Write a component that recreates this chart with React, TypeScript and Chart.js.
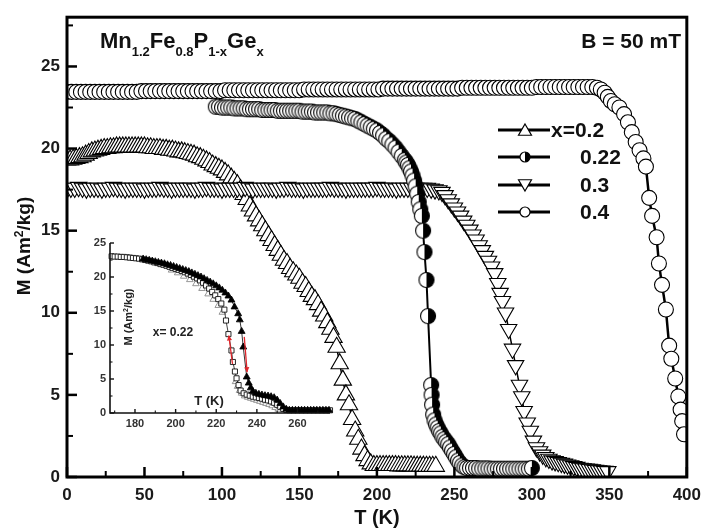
import React, { useEffect, useRef } from 'react';
import { Chart, registerables } from 'chart.js';

Chart.register(...registerables);

const FONT = "'Liberation Sans', Arial, Helvetica, sans-serif";

// ---------------- main panel : x = 0.2 (open up-triangles) ----------------
const T_X020 = [0,2,4,6,8,10,12,14,16,18,20,22,24,26,28,30,32,34,36,38,40,42,44,46,48,50,52,54,56,58,60,62,64,66,68,70,72,74,76,78,80,82,84,86,88,90,92,94,96,98,100,102,104,106,108,110,112,114,116,118,120,122,124,126,128,130,132,134,136,138,140,142,144,146,148,150,152,154,156,158,160,162,164,166,168,170,172,174,176,178,180,182,184,186,188,190,192,194,196,198,200,202,204,206,208,210,212,214,216,218,220,222,224,226,228,230,232,234,236,238];
const M_X020 = [
  19.3,19.3,19.35,19.4,19.45,19.5,19.6,19.7,19.8,19.85,
  19.9,19.95,20.0,20.0,20.05,20.05,20.1,20.1,20.1,20.1,
  20.1,20.1,20.1,20.1,20.1,20.1,20.05,20.05,20.0,20.0,
  20.0,19.95,19.95,19.9,19.9,19.85,19.8,19.8,19.75,19.7,
  19.65,19.6,19.5,19.45,19.35,19.25,19.15,19.0,18.9,18.8,
  18.7,18.55,18.4,18.2,18.0,17.8,17.5,17.2,16.9,16.5,
  16.2,15.9,15.6,15.3,15.0,14.7,14.4,14.1,13.8,13.5,
  13.2,13.0,12.7,12.5,12.3,12.1,11.8,11.6,11.3,11.0,
  10.8,10.5,10.1,9.8,9.4,9.0,8.5,7.9,6.9,5.9,
  5.0,4.4,3.5,2.8,2.3,1.7,1.3,1.0,0.8,0.7,
  0.7,0.7,0.7,0.7,0.7,0.7,0.7,0.68,0.68,0.68,
  0.68,0.68,0.66,0.66,0.66,0.66,0.65,0.65,0.65,0.65
];

// ---------------- main panel : x = 0.22 (half-filled circles) ----------------
const T_X022 = [96,98,100,102,104,106,108,110,112,114,116,118,120,122,124,126,128,130,132,134,136,138,140,142,144,146,148,150,152,154,156,158,160,162,164,166,168,170,172,174,176,178,180,182,184,186,188,190,192,194,196,198,200,202,204,206,208,210,212,214,216,218,
  219,220,221,222,223,224,225,226,227,228,229,229.8,230.7,232,233,235,235.3,235.6,236.3,237.2,238.2,239.2,240.2,241.2,242.3,243.5,244.7,246,247.2,248.5,249.8,251,252.3,253.5,255,256.5,258,
  260,262,264,266,268,270,272,274,276,278,280,282,284,286,288,290,292,294,296,298,300];
const M_X022 = [
  22.55,22.55,22.5,22.5,22.5,22.5,22.45,22.45,22.45,22.45,
  22.4,22.4,22.4,22.4,22.4,22.35,22.35,22.35,22.35,22.35,
  22.3,22.3,22.3,22.3,22.3,22.3,22.3,22.3,22.25,22.25,
  22.25,22.25,22.2,22.2,22.2,22.2,22.2,22.15,22.15,22.1,
  22.05,22.0,21.95,21.9,21.85,21.8,21.7,21.6,21.5,21.4,
  21.3,21.2,21.1,20.95,20.8,20.6,20.45,20.25,20.05,19.8,
  19.55,19.3,
  19.15,19.0,18.8,18.6,18.35,18.05,17.7,17.25,16.75,16.3,
  15.9,15.0,13.7,12.0,9.8,5.6,5.0,4.4,3.8,3.45,
  3.2,3.0,2.8,2.65,2.45,2.3,2.15,2.0,1.8,1.6,
  1.4,1.2,1.0,0.85,0.7,0.6,0.55,
  0.55,0.55,0.55,0.52,0.52,0.52,0.52,0.5,0.5,0.5,0.5,0.5,0.5,0.5,0.5,0.5,0.5,0.5,0.5,0.5,0.55
];

// ---------------- main panel : x = 0.3 (open down-triangles) ----------------
const T_X030 = [0,2.5,5,7.5,10,12.5,15,17.5,20,22.5,25,27.5,30,32.5,35,37.5,40,42.5,45,47.5,50,52.5,55,57.5,60,62.5,65,67.5,70,72.5,75,77.5,80,82.5,85,87.5,90,92.5,95,97.5,100,102.5,105,107.5,110,112.5,115,117.5,120,122.5,125,127.5,130,132.5,135,137.5,140,142.5,145,147.5,150,152.5,155,157.5,160,162.5,165,167.5,170,172.5,175,177.5,180,182.5,185,187.5,190,192.5,195,197.5,200,202.5,205,207.5,210,212.5,215,217.5,220,222.5,225,227.5,230,232.5,235,237.5,
  240,242,244,246,248,250,252,254,256,258,260,262,264,266,268,270,272,274,276,278,
  279.5,281,283,285,287.5,289.5,292,293.5,295,297,299,301,303,305,307,309,311,313,315,317,319,321,323,325,327,329,331,333,335,337,339,341,343,345,347,349];
const M_X030 = [
  17.55,17.6,17.6,17.65,17.6,17.55,17.6,17.6,17.6,17.55,
  17.6,17.6,17.65,17.6,17.6,17.55,17.6,17.6,17.6,17.6,
  17.55,17.6,17.6,17.6,17.65,17.6,17.6,17.55,17.6,17.6,
  17.6,17.6,17.6,17.55,17.6,17.6,17.65,17.6,17.6,17.6,
  17.55,17.6,17.6,17.6,17.6,17.6,17.65,17.6,17.55,17.6,
  17.6,17.6,17.6,17.6,17.55,17.6,17.6,17.65,17.6,17.6,
  17.6,17.55,17.6,17.6,17.6,17.6,17.6,17.6,17.65,17.6,
  17.6,17.6,17.55,17.6,17.6,17.6,17.6,17.6,17.6,17.6,
  17.65,17.6,17.6,17.6,17.6,17.55,17.6,17.6,17.6,17.6,
  17.6,17.6,17.6,17.6,17.55,17.5,
  17.45,17.35,17.15,16.9,16.65,16.4,16.15,15.9,15.6,15.35,
  15.05,14.75,14.45,14.1,13.8,13.45,13.15,12.8,12.4,11.8,
  11.2,10.7,10.0,9.0,7.8,6.8,5.6,4.9,4.0,3.3,
  2.8,2.2,1.8,1.55,1.35,1.2,1.1,1.0,0.95,0.9,
  0.85,0.8,0.75,0.7,0.65,0.6,0.55,0.52,0.5,0.48,
  0.45,0.42,0.4,0.38,0.36,0.34
];

// ---------------- main panel : x = 0.4 (open circles) ----------------
const T_X040 = [0,3,6,9,12,15,18,21,24,27,30,33,36,39,42,45,48,51,54,57,60,63,66,69,72,75,78,81,84,87,90,93,96,99,102,105,108,111,114,117,120,123,126,129,132,135,138,141,144,147,150,153,156,159,162,165,168,171,174,177,180,183,186,189,192,195,198,201,204,207,210,213,216,219,222,225,228,231,234,237,240,243,246,249,252,255,258,261,264,267,270,273,276,279,282,285,288,291,294,297,300,303,306,309,312,315,318,321,324,327,330,333,336,339,
  342,344.5,347,349,351,353.5,356.5,359.5,362,364.5,367,369.5,372,373.6,375.7,377.6,380.5,382,384,386.5,388.6,390,392.5,394.5,396,397,398.2];
const M_X040 = [
  23.45,23.45,23.45,23.45,23.45,23.45,23.45,23.45,23.45,23.45,23.45,23.45,23.45,23.45,23.45,23.45,
  23.5,23.5,23.5,23.5,23.5,23.5,23.5,23.5,23.5,23.5,23.5,23.5,23.5,23.5,23.5,23.5,23.5,23.5,
  23.55,23.55,23.55,23.55,23.55,23.55,23.55,23.55,23.55,23.55,23.55,23.55,23.55,23.55,23.55,23.55,23.55,
  23.6,23.6,23.6,23.6,23.6,23.6,23.6,23.6,23.6,23.6,23.6,23.6,23.6,23.6,23.6,23.6,23.6,
  23.65,23.65,23.65,23.65,23.65,23.65,23.65,23.65,23.65,23.65,23.65,23.65,23.65,23.65,23.65,23.65,23.65,
  23.7,23.7,23.7,23.7,23.7,23.7,23.7,23.7,23.7,23.7,23.7,23.7,23.7,23.7,23.7,23.7,
  23.75,23.75,23.75,23.75,23.75,23.75,23.75,23.75,23.75,23.75,23.75,23.75,23.75,
  23.7,23.6,23.4,23.15,22.9,22.7,22.5,22.1,21.6,21.0,
  20.4,19.9,19.4,18.9,17.0,15.9,14.6,13.0,11.7,10.2,
  8.0,7.2,6.0,4.9,4.1,3.4,2.6
];

// ---------------- inset : x = 0.22 ----------------
const INS_T_SQ = [168.5,170,171.5,173,174.5,176,177.5,179,180.5,182,183.5,185,186.5,188,189.5,191,192.5,194,195.5,197,198.5,200,201.5,203,204.5,206,207.5,209,210.5,212,213.5,215,216.5,218,219.5,221,222.5,224,224.8,226,227.5,228.2,229.2,230,231,232,233.5,235,236.5,238,239.5,241,242.5,244,245.5,247,248.5,250,251.5,253,254.5,256,258,260,262,264,266,268,270,272,274,276];
const INS_M_SQ = [23.05,23.0,23.0,22.95,22.95,22.9,22.85,22.8,22.75,22.7,22.6,22.5,22.4,22.3,22.15,22.05,21.9,21.8,21.65,21.5,21.35,21.2,21.05,20.9,20.7,20.5,20.3,20.05,19.8,19.5,19.15,18.75,18.3,17.8,17.3,16.75,16.1,15.2,13.6,11.6,9.2,7.5,6.1,5.1,4.1,3.3,2.9,2.7,2.55,2.4,2.3,2.2,2.1,1.95,1.85,1.7,1.5,1.2,0.9,0.6,0.45,0.4,0.4,0.4,0.4,0.4,0.4,0.4,0.4,0.4,0.4,0.4];
const INS_T_TR = [184,185.5,187,188.5,190,191.5,193,194.5,196,197.5,199,200.5,202,203.5,205,206.5,208,209.5,211,212.5,214,215.5,217,218.5,220,221.5,223,224.5,226,227.5,229,230.8,231.6,232.5,233.3,235,236,237,238,239.5,241,242.5,244,245.5,247,248.5,250,251.5,253,254.5,256,257.5,259,260.5,262,263.5,265,266.5,268,269.5,271,272.5,274,275.5];
const INS_M_TR = [22.65,22.55,22.45,22.35,22.25,22.15,22.05,21.95,21.8,21.7,21.55,21.4,21.25,21.1,20.95,20.8,20.6,20.4,20.2,20.0,19.75,19.5,19.25,19.0,18.7,18.4,18.05,17.65,17.2,16.6,15.6,14.6,13.7,12.0,9.7,5.3,4.4,3.7,3.2,2.9,2.75,2.65,2.55,2.5,2.4,2.25,1.9,1.4,0.9,0.55,0.4,0.4,0.4,0.4,0.4,0.4,0.4,0.4,0.4,0.4,0.4,0.4,0.4,0.4];
const INS_T_GR = [198,201,204,207,210,213,216,218.5,221,223,229.5,230.5,231.5,232.5,234,235.5,237,238.5,240,241.5,243,244.5,246,247.5,249,250.5];
const INS_M_GR = [21.0,20.6,20.1,19.6,19.0,18.3,17.5,16.7,15.8,14.8,4.6,3.9,3.3,2.9,2.5,2.3,2.15,2.0,1.85,1.7,1.55,1.4,1.25,1.05,0.8,0.55];
const INS_ARROWS = [[228.0, 7.2, 226.2, 11.4], [233.8, 11.2, 235.2, 6.0]];

// ---------------- ticks & labels ----------------
const X_MAJOR = [0,50,100,150,200,250,300,350,400];
const X_MINOR = [25,75,125,175,225,275,325,375];
const Y_MAJOR = [0,5,10,15,20,25];
const Y_MINOR = [2.5,7.5,12.5,17.5,22.5,27.5];
const INS_X_MAJOR = [180,200,220,240,260];
const INS_X_MINOR = [170,190,210,230,250,270];
const INS_Y_MAJOR = [0,5,10,15,20,25];
const INS_Y_MINOR = [2.5,7.5,12.5,17.5,22.5];
const LEGEND_LABELS = ['x=0.2','0.22','0.3','0.4'];

const pts = (T: number[], M: number[]) => T.map((t, i) => ({ x: t, y: M[i] }));

type Seg = { t: string; s: number; dy: number };
function segWidth(ctx: CanvasRenderingContext2D, segs: Seg[]) {
  let w = 0;
  for (const g of segs) { ctx.font = `bold ${g.s}px ${FONT}`; w += ctx.measureText(g.t).width; }
  return w;
}
function drawSegs(ctx: CanvasRenderingContext2D, segs: Seg[], x: number, y: number) {
  let cx = x;
  for (const g of segs) {
    ctx.font = `bold ${g.s}px ${FONT}`;
    ctx.fillText(g.t, cx, y + g.dy);
    cx += ctx.measureText(g.t).width;
  }
}
function triPath(ctx: CanvasRenderingContext2D, x: number, y: number, r: number, down: boolean) {
  const s = down ? -1 : 1;
  ctx.beginPath();
  ctx.moveTo(x, y - s * r);
  ctx.lineTo(x + r * 0.866, y + s * r * 0.5);
  ctx.lineTo(x - r * 0.866, y + s * r * 0.5);
  ctx.closePath();
}
function halfCircle(ctx: CanvasRenderingContext2D, cx: number, cy: number, r: number, lw: number) {
  ctx.beginPath(); ctx.arc(cx, cy, r, 0, Math.PI * 2); ctx.fillStyle = '#fff'; ctx.fill();
  ctx.beginPath(); ctx.moveTo(cx, cy - r); ctx.arc(cx, cy, r, -Math.PI / 2, Math.PI / 2); ctx.closePath();
  ctx.fillStyle = '#000'; ctx.fill();
  ctx.beginPath(); ctx.arc(cx, cy, r, 0, Math.PI * 2); ctx.lineWidth = lw; ctx.strokeStyle = '#000'; ctx.stroke();
}
function makeHalfCircleImage(r: number, lw: number) {
  const size = 2 * Math.ceil(r + lw + 1);
  const c = document.createElement('canvas');
  c.width = size; c.height = size;
  const g = c.getContext('2d') as CanvasRenderingContext2D;
  halfCircle(g, size / 2, size / 2, r, lw);
  return c;
}

const TITLE_SEGS: Seg[] = [
  { t: 'Mn', s: 22, dy: 0 }, { t: '1.2', s: 13, dy: 8 },
  { t: 'Fe', s: 22, dy: 0 }, { t: '0.8', s: 13, dy: 8 },
  { t: 'P', s: 22, dy: 0 }, { t: '1-x', s: 13, dy: 8 },
  { t: 'Ge', s: 22, dy: 0 }, { t: 'x', s: 13, dy: 8 },
];
const YTITLE_SEGS: Seg[] = [{ t: 'M (Am', s: 19, dy: 0 }, { t: '2', s: 12, dy: -7 }, { t: '/kg)', s: 19, dy: 0 }];
const INS_YTITLE_SEGS: Seg[] = [{ t: 'M (Am', s: 11, dy: 0 }, { t: '2', s: 7, dy: -4 }, { t: '/kg)', s: 11, dy: 0 }];

const mainDecor = {
  id: 'mainDecor',
  afterDraw(chart: any) {
    const { ctx, chartArea: a } = chart;
    const xs = chart.scales.x, ys = chart.scales.y;
    ctx.save();
    ctx.strokeStyle = '#000';
    const line = (x1: number, y1: number, x2: number, y2: number, w: number) => {
      ctx.lineWidth = w; ctx.beginPath(); ctx.moveTo(x1, y1); ctx.lineTo(x2, y2); ctx.stroke();
    };
    X_MAJOR.forEach(v => { const p = xs.getPixelForValue(v); line(p, a.bottom, p, a.bottom - 10, 2.5); });
    X_MINOR.forEach(v => { const p = xs.getPixelForValue(v); line(p, a.bottom, p, a.bottom - 6, 2); });
    Y_MAJOR.forEach(v => { const p = ys.getPixelForValue(v); line(a.left, p, a.left + 10, p, 2.5); });
    Y_MINOR.forEach(v => { const p = ys.getPixelForValue(v); line(a.left, p, a.left + 6, p, 2); });
    ctx.lineWidth = 3;
    ctx.strokeRect(a.left, a.top, a.right - a.left, a.bottom - a.top);

    ctx.fillStyle = '#111';
    ctx.textBaseline = 'alphabetic';
    ctx.textAlign = 'left';
    drawSegs(ctx, TITLE_SEGS, 100, 48);
    ctx.font = `bold 21px ${FONT}`;
    ctx.textAlign = 'right';
    ctx.fillText('B = 50 mT', 681, 48);

    // axis titles
    ctx.textAlign = 'center';
    ctx.font = `bold 20px ${FONT}`;
    ctx.fillText('T (K)', (a.left + a.right) / 2, 524);
    ctx.save();
    ctx.translate(23, 246);
    ctx.rotate(-Math.PI / 2);
    ctx.textAlign = 'left';
    const w = segWidth(ctx, YTITLE_SEGS);
    drawSegs(ctx, YTITLE_SEGS, -w / 2, 7);
    ctx.restore();

    // legend
    const rows = [130, 157, 185, 212];
    const lx1 = 498, lx2 = 550, mx = 525;
    rows.forEach((ry, i) => {
      ctx.strokeStyle = '#000';
      line(lx1, ry, lx2, ry, 3);
      ctx.lineWidth = 1.2;
      if (i === 0 || i === 2) {
        triPath(ctx, mx, ry + (i === 0 ? 1.5 : -1.5), 7.5, i === 2);
        ctx.fillStyle = '#fff'; ctx.fill(); ctx.stroke();
      } else if (i === 1) {
        halfCircle(ctx, mx, ry, 5, 1.2);
      } else {
        ctx.beginPath(); ctx.arc(mx, ry, 5, 0, Math.PI * 2); ctx.fillStyle = '#fff'; ctx.fill(); ctx.stroke();
      }
      ctx.fillStyle = '#111';
      ctx.font = `bold 21px ${FONT}`;
      ctx.textAlign = 'left';
      ctx.textBaseline = 'middle';
      ctx.fillText(LEGEND_LABELS[i], i === 0 ? 551 : 580, ry + 1);
    });
    ctx.restore();
  },
};

const insetDecor = {
  id: 'insetDecor',
  afterDraw(chart: any) {
    const { ctx, chartArea: a } = chart;
    const xs = chart.scales.x, ys = chart.scales.y;
    ctx.save();
    ctx.strokeStyle = '#111';
    const line = (x1: number, y1: number, x2: number, y2: number, w: number) => {
      ctx.lineWidth = w; ctx.beginPath(); ctx.moveTo(x1, y1); ctx.lineTo(x2, y2); ctx.stroke();
    };
    ctx.lineWidth = 1.6;
    ctx.beginPath();
    ctx.moveTo(a.left, ys.getPixelForValue(25));
    ctx.lineTo(a.left, a.bottom);
    ctx.lineTo(a.right, a.bottom);
    ctx.stroke();
    INS_X_MAJOR.forEach(v => { const p = xs.getPixelForValue(v); line(p, a.bottom, p, a.bottom - 4, 1.4); });
    INS_X_MINOR.forEach(v => { const p = xs.getPixelForValue(v); line(p, a.bottom, p, a.bottom - 2.5, 1.1); });
    INS_Y_MAJOR.forEach(v => { const p = ys.getPixelForValue(v); line(a.left, p, a.left + 4, p, 1.4); });
    INS_Y_MINOR.forEach(v => { const p = ys.getPixelForValue(v); line(a.left, p, a.left + 2.5, p, 1.1); });

    // red arrows
    ctx.strokeStyle = '#e0262b';
    ctx.fillStyle = '#e0262b';
    INS_ARROWS.forEach(([t1, m1, t2, m2]) => {
      const x1 = xs.getPixelForValue(t1), y1 = ys.getPixelForValue(m1);
      const x2 = xs.getPixelForValue(t2), y2 = ys.getPixelForValue(m2);
      line(x1, y1, x2, y2, 1.3);
      const ang = Math.atan2(y2 - y1, x2 - x1);
      const L = 5, H = 2.6;
      ctx.beginPath();
      ctx.moveTo(x2, y2);
      ctx.lineTo(x2 - L * Math.cos(ang) + H * Math.sin(ang), y2 - L * Math.sin(ang) - H * Math.cos(ang));
      ctx.lineTo(x2 - L * Math.cos(ang) - H * Math.sin(ang), y2 - L * Math.sin(ang) + H * Math.cos(ang));
      ctx.closePath();
      ctx.fill();
    });

    // texts
    ctx.fillStyle = '#222';
    ctx.textBaseline = 'middle';
    ctx.textAlign = 'center';
    ctx.font = `bold 12px ${FONT}`;
    ctx.fillText('x= 0.22', 103, 103);
    ctx.font = `bold 13px ${FONT}`;
    ctx.fillText('T (K)', 139, 171);
    ctx.save();
    ctx.translate(58, 87);
    ctx.rotate(-Math.PI / 2);
    ctx.textAlign = 'left';
    ctx.textBaseline = 'alphabetic';
    const w = segWidth(ctx, INS_YTITLE_SEGS);
    drawSegs(ctx, INS_YTITLE_SEGS, -w / 2, 4);
    ctx.restore();
    ctx.restore();
  },
};

export default function App() {
  const mainRef = useRef<HTMLCanvasElement | null>(null);
  const insetRef = useRef<HTMLCanvasElement | null>(null);

  useEffect(() => {
    const half = makeHalfCircleImage(7.5, 1.1);
    const tickFont = { family: FONT, size: 17, weight: 'bold' as const };
    const common = {
      showLine: true,
      borderColor: '#000',
      pointBackgroundColor: '#fff',
      pointBorderColor: '#000',
      clip: 0,
    };
    const main = new Chart(mainRef.current as HTMLCanvasElement, {
      type: 'scatter',
      data: {
        datasets: [
          { ...common, label: 'x=0.4', data: pts(T_X040, M_X040), pointStyle: 'circle', pointRadius: 7.5, pointBorderWidth: 1.1, borderWidth: 2.5, order: 0 },
          { ...common, label: '0.22', data: pts(T_X022, M_X022), pointStyle: half as any, pointRadius: 7.5, borderWidth: 2, order: 1 },
          { ...common, label: '0.3', data: pts(T_X030, M_X030), pointStyle: 'triangle', rotation: 180, pointRadius: 9.5, pointBorderWidth: 1.1, borderWidth: 1.5, order: 2 },
          { ...common, label: 'x=0.2', data: pts(T_X020, M_X020), pointStyle: 'triangle', pointRadius: 10, pointBorderWidth: 1.1, borderWidth: 1.5, order: 3 },
        ],
      } as any,
      options: {
        responsive: false,
        animation: false,
        layout: { padding: { left: 0, right: 16, top: 10, bottom: 0 } },
        plugins: { legend: { display: false }, tooltip: { enabled: false }, title: { display: false } },
        scales: {
          x: {
            type: 'linear', min: 0, max: 400, bounds: 'data',
            grid: { display: false, drawTicks: false }, border: { display: false },
            ticks: { font: tickFont, color: '#1a1a1a', padding: 8, maxRotation: 0, autoSkip: false, includeBounds: false },
            afterBuildTicks: (s: any) => { s.ticks = X_MAJOR.map(v => ({ value: v })); },
            afterFit: (s: any) => { s.height = 51; },
          },
          y: {
            type: 'linear', min: 0, max: 28, bounds: 'data',
            grid: { display: false, drawTicks: false }, border: { display: false },
            ticks: { font: tickFont, color: '#1a1a1a', padding: 7, autoSkip: false, includeBounds: false },
            afterBuildTicks: (s: any) => { s.ticks = Y_MAJOR.map(v => ({ value: v })); },
            afterFit: (s: any) => { s.width = 67; },
          },
        },
      } as any,
      plugins: [mainDecor],
    });

    const insTickFont = { family: FONT, size: 11, weight: 'bold' as const };
    const insCommon = { showLine: true, borderWidth: 0.8, clip: false };
    const inset = new Chart(insetRef.current as HTMLCanvasElement, {
      type: 'scatter',
      data: {
        datasets: [
          { ...insCommon, label: 'heat', data: pts(INS_T_TR, INS_M_TR), pointStyle: 'triangle', pointRadius: 4, pointBackgroundColor: '#000', pointBorderColor: '#000', pointBorderWidth: 0.8, borderColor: '#000', order: 0 },
          { ...insCommon, label: 'cool', data: pts(INS_T_SQ, INS_M_SQ), pointStyle: 'rect', pointRadius: 3.6, pointBackgroundColor: '#fff', pointBorderColor: '#111', pointBorderWidth: 0.9, borderColor: '#111', order: 1 },
          { ...insCommon, label: 'other', data: pts(INS_T_GR, INS_M_GR), pointStyle: 'triangle', pointRadius: 3.8, pointBackgroundColor: '#fff', pointBorderColor: '#8a8a8a', pointBorderWidth: 0.9, borderColor: '#8a8a8a', borderWidth: 0, showLine: false, order: 2 },
        ],
      } as any,
      options: {
        responsive: false,
        animation: false,
        layout: { padding: { left: 0, right: 10, top: 13, bottom: 0 } },
        plugins: { legend: { display: false }, tooltip: { enabled: false } },
        scales: {
          x: {
            type: 'linear', min: 167.7, max: 276, bounds: 'data',
            grid: { display: false, drawTicks: false }, border: { display: false },
            ticks: { font: insTickFont, color: '#333', padding: 4, maxRotation: 0, autoSkip: false, includeBounds: false },
            afterBuildTicks: (s: any) => { s.ticks = INS_X_MAJOR.map(v => ({ value: v })); },
            afterFit: (s: any) => { s.height = 17; },
          },
          y: {
            type: 'linear', min: 0, max: 25, bounds: 'data',
            grid: { display: false, drawTicks: false }, border: { display: false },
            ticks: { font: insTickFont, color: '#333', padding: 4, autoSkip: false, includeBounds: false },
            afterBuildTicks: (s: any) => { s.ticks = INS_Y_MAJOR.map(v => ({ value: v })); },
            afterFit: (s: any) => { s.width = 40; },
          },
        },
      } as any,
      plugins: [insetDecor],
    });

    return () => { main.destroy(); inset.destroy(); };
  }, []);

  return (
    <div style={{ position: 'absolute', left: 0, top: 0, width: 709, height: 528, background: '#fff' }}>
      <canvas ref={mainRef} width={709} height={528} style={{ position: 'absolute', left: 0, top: 0 }} />
      <canvas ref={insetRef} width={270} height={200} style={{ position: 'absolute', left: 70, top: 230 }} />
    </div>
  );
}
